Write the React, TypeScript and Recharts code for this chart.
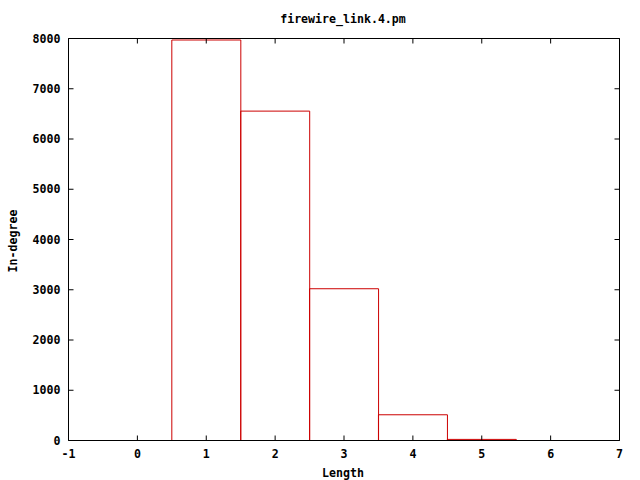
import React from 'react';
import { ComposedChart, Bar, Line, XAxis, YAxis, Label } from 'recharts';

const lengths = [1, 2, 3, 4, 5];
const inDegree = [7970, 6555, 3020, 512, 22];
const xTicks = [-1, 0, 1, 2, 3, 4, 5, 6, 7];
const yTicks = [0, 1000, 2000, 3000, 4000, 5000, 6000, 7000, 8000];
const title = 'firewire_link.4.pm';
const xLabel = 'Length';
const yLabel = 'In-degree';

const data = lengths.map((l, i) => ({ length: l, value: inDegree[i] }));

const FONT = "'DejaVu Sans Mono', monospace";
const FS = 11.6;
const TL = 5;

const BottomTick = (p: any) => (
  <g>
    <line x1={p.x} x2={p.x} y1={p.y} y2={p.y - TL} stroke="#000" />
    <text x={p.x} y={p.y + 17} textAnchor="middle" fontFamily={FONT} fontSize={FS} fontWeight="bold" fill="#000">
      {p.payload.value}
    </text>
  </g>
);
const TopTick = (p: any) => (
  <line x1={p.x} x2={p.x} y1={p.y} y2={p.y + TL} stroke="#000" />
);
const LeftTick = (p: any) => (
  <g>
    <line x1={p.x} x2={p.x + TL} y1={p.y} y2={p.y} stroke="#000" />
    <text x={p.x - 8} y={p.y + 4} textAnchor="end" fontFamily={FONT} fontSize={FS} fontWeight="bold" fill="#000">
      {p.payload.value}
    </text>
  </g>
);
const RightTick = (p: any) => (
  <line x1={p.x} x2={p.x - TL} y1={p.y} y2={p.y} stroke="#000" />
);

export default function App() {
  return (
    <div style={{ position: 'absolute', left: 0, top: 0, width: 640, height: 480, background: '#fff' }}>
      <ComposedChart
        width={640}
        height={480}
        data={data}
        barCategoryGap={0}
        barGap={0}
        margin={{ top: 37.5, right: 19.5, bottom: 0, left: 0.5 }}
      >
        <XAxis
          dataKey="length"
          type="number"
          domain={[-1, 7]}
          ticks={xTicks}
          interval={0}
          allowDataOverflow
          height={39.5}
          tickSize={0}
          tickMargin={0}
          tickLine={false}
          axisLine={{ stroke: '#000' }}
          tick={<BottomTick />}
        >
          <Label
            content={() => (
              <text x={343} y={477} textAnchor="middle" fontFamily={FONT} fontSize={FS} fontWeight="bold" fill="#000">
                {xLabel}
              </text>
            )}
          />
        </XAxis>
        <XAxis
          xAxisId="top"
          dataKey="length"
          orientation="top"
          type="number"
          domain={[-1, 7]}
          ticks={xTicks}
          interval={0}
          allowDataOverflow
          height={1}
          tickSize={0}
          tickMargin={0}
          tickLine={false}
          axisLine={{ stroke: '#000' }}
          tick={<TopTick />}
        >
          <Label
            content={() => (
              <text x={343} y={23} textAnchor="middle" fontFamily={FONT} fontSize={FS} fontWeight="bold" fill="#000">
                {title}
              </text>
            )}
          />
        </XAxis>
        <YAxis
          type="number"
          domain={[0, 8000]}
          ticks={yTicks}
          interval={0}
          allowDataOverflow
          width={68}
          tickSize={0}
          tickMargin={0}
          tickLine={false}
          axisLine={{ stroke: '#000' }}
          tick={<LeftTick />}
        >
          <Label
            content={() => (
              <text
                x={17}
                y={241}
                transform="rotate(-90 17 241)"
                textAnchor="middle"
                fontFamily={FONT}
                fontSize={FS}
                fontWeight="bold"
                fill="#000"
              >
                {yLabel}
              </text>
            )}
          />
        </YAxis>
        <YAxis
          yAxisId="right"
          orientation="right"
          type="number"
          domain={[0, 8000]}
          ticks={yTicks}
          interval={0}
          allowDataOverflow
          width={1}
          tickSize={0}
          tickMargin={0}
          tickLine={false}
          axisLine={{ stroke: '#000' }}
          tick={<RightTick />}
        />
        <Bar dataKey="value" fill="none" stroke="#cc0000" strokeWidth={1} isAnimationActive={false} />
        <Line
          xAxisId="top"
          yAxisId="right"
          dataKey="value"
          stroke="none"
          dot={false}
          activeDot={false}
          legendType="none"
          isAnimationActive={false}
        />
      </ComposedChart>
    </div>
  );
}
